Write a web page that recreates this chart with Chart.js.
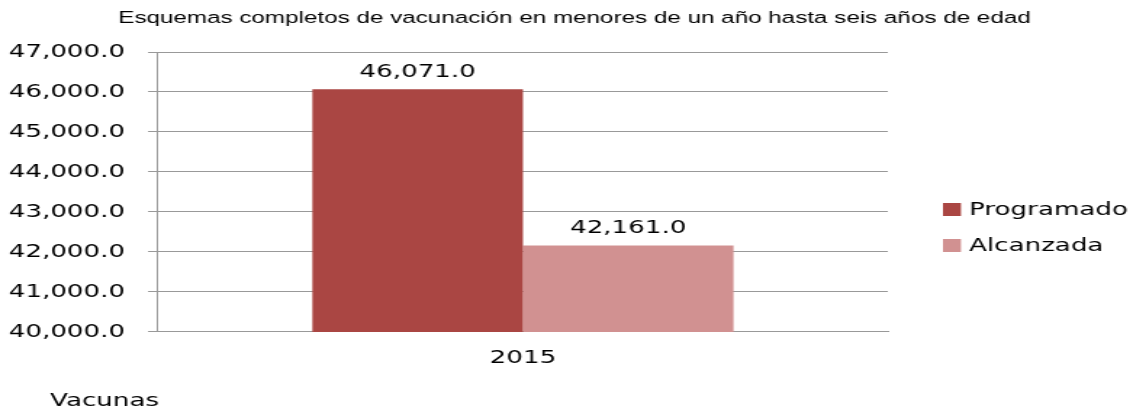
<!DOCTYPE html>
<html>
<head>
<meta charset="utf-8">
<script src="https://cdn.jsdelivr.net/npm/chart.js@4.4.0/dist/chart.umd.min.js"></script>
<style>
  html, body { margin: 0; padding: 0; background: #fff; overflow: hidden; }
  #wrap { width: 1133px; height: 409px; overflow: hidden; }
  /* the reference picture is stretched sideways, so draw narrow and stretch */
  #chart { display: block; transform: scaleX(1.4507); transform-origin: 0 0; }
</style>
</head>
<body>
<div id="wrap"><canvas id="chart" width="781" height="409"></canvas></div>
<script>
const titulo = 'Esquemas completos de vacunación en menores de un año hasta seis años de edad';
const categorias = ['2015'];
const programado = [46071];
const alcanzada = [42161];
const nombres = ['Programado', 'Alcanzada'];
const colores = ['#AA4643', '#D19191'];
const yMin = 40000;
const yMax = 47000;
const yPaso = 1000;
const notaPie = 'Vacunas';

const fuente = 'DejaVu Sans';
const gris = '#999999';

function fmt(v) {
  return v.toLocaleString('en-US', { minimumFractionDigits: 1, maximumFractionDigits: 1 });
}

const extras = {
  id: 'extras',
  afterDatasetsDraw(chart) {
    const ctx = chart.ctx;
    ctx.save();
    ctx.fillStyle = '#000';
    ctx.font = '18px "' + fuente + '"';
    ctx.textAlign = 'center';
    ctx.textBaseline = 'bottom';
    chart.data.datasets.forEach((ds, i) => {
      chart.getDatasetMeta(i).data.forEach((bar, j) => {
        ctx.fillText(fmt(ds.data[j]), bar.x, bar.y - 8);
      });
    });
    ctx.restore();
  },
  afterDraw(chart) {
    const ctx = chart.ctx;
    ctx.save();
    // title
    ctx.fillStyle = '#000';
    ctx.font = '16.7px "Liberation Sans"';
    ctx.textAlign = 'center';
    ctx.textBaseline = 'middle';
    ctx.fillText(titulo, 396, 18.5);
    // legend
    ctx.font = '18px "' + fuente + '"';
    ctx.textAlign = 'left';
    chart.data.datasets.forEach((ds, i) => {
      const cy = 209.5 + i * 36;
      ctx.fillStyle = ds.backgroundColor;
      ctx.fillRect(650, cy - 6.5, 12.4, 13);
      ctx.fillStyle = '#000';
      ctx.fillText(ds.label, 668, cy + 1);
    });
    // footer
    ctx.font = '18px "' + fuente + '"';
    ctx.fillText(notaPie, 34.5, 401);
    ctx.restore();
  }
};

new Chart(document.getElementById('chart'), {
  type: 'bar',
  data: {
    labels: categorias,
    datasets: [
      { label: nombres[0], data: programado, backgroundColor: colores[0] },
      { label: nombres[1], data: alcanzada, backgroundColor: colores[1] }
    ]
  },
  options: {
    responsive: false,
    animation: false,
    devicePixelRatio: 1,
    layout: { padding: { left: 0, right: 169, top: 52, bottom: 31.5 } },
    datasets: { bar: { barPercentage: 1, categoryPercentage: 0.577 } },
    plugins: {
      legend: { display: false },
      title: { display: false },
      tooltip: { enabled: false }
    },
    scales: {
      x: {
        grid: { display: false },
        border: { display: true, color: gris, width: 1 },
        ticks: { color: '#000', font: { family: fuente, size: 18 }, padding: 8 }
      },
      y: {
        min: yMin,
        max: yMax,
        afterFit: s => { s.width = 108.9; },
        grid: { color: gris, lineWidth: 1, tickLength: 6.9 },
        border: { display: true, color: gris, width: 1 },
        ticks: {
          stepSize: yPaso,
          color: '#000',
          padding: 15.8,
          font: { family: fuente, size: 18 },
          callback: v => fmt(v)
        }
      }
    }
  },
  plugins: [extras]
});
</script>
</body>
</html>
